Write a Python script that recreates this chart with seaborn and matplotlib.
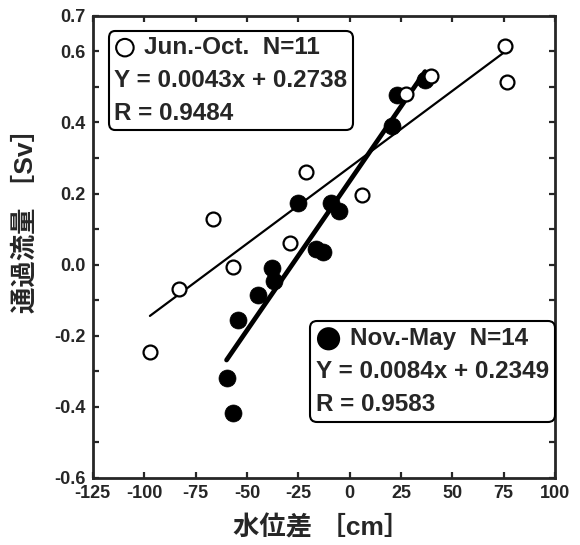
import numpy as np
import pandas as pd
import seaborn as sns
import matplotlib
matplotlib.use("Agg")
import matplotlib.pyplot as plt
from matplotlib.patches import Circle
from matplotlib.offsetbox import AnchoredOffsetbox, VPacker, HPacker, TextArea, DrawingArea

# Jun.-Oct. (open circles)
summer_x = [-97.2, -83.0, -66.7, -57.0, -28.8, -21.4, 5.9, 27.5, 39.5, 75.7, 76.5]
summer_y = [-0.245, -0.069, 0.129, -0.007, 0.060, 0.262, 0.196, 0.481, 0.531, 0.614, 0.515]

# Nov.-May (filled circles)
winter_x = [36.7, 22.9, 20.5, -25.0, -9.1, -5.0, -16.6, -12.8, -38.0, -36.8, -44.5, -54.2, -59.9, -57.0]
winter_y = [0.520, 0.478, 0.390, 0.174, 0.173, 0.151, 0.044, 0.035, -0.009, -0.046, -0.084, -0.157, -0.318, -0.416]

# regression results printed in the boxes
fit_slope = [0.0043, 0.0084]
fit_intercept = [0.2738, 0.2349]
box_lines = [
    ["Jun.-Oct.  N=11", "Y = 0.0043x + 0.2738", "R = 0.9484"],
    ["Nov.-May  N=14", "Y = 0.0084x + 0.2349", "R = 0.9583"],
]

x_ticks = [-125, -100, -75, -50, -25, 0, 25, 50, 75, 100]
y_ticks = [-0.6, -0.5, -0.4, -0.3, -0.2, -0.1, 0.0, 0.1, 0.2, 0.3, 0.4, 0.5, 0.6, 0.7]
y_ticklabels = ["-0.6", "", "-0.4", "", "-0.2", "", "0.0", "", "0.2", "", "0.4", "", "0.6", "0.7"]

sns.set_style("ticks")
plt.rcParams["font.family"] = ["Liberation Sans", "Noto Sans CJK JP", "DejaVu Sans"]
plt.rcParams["font.weight"] = "bold"

df_s = pd.DataFrame({"x": summer_x, "y": summer_y})
df_w = pd.DataFrame({"x": winter_x, "y": winter_y})

fig, ax = plt.subplots(figsize=(5.8, 5.45), dpi=100)
fig.subplots_adjust(left=0.160, right=0.957, bottom=0.123, top=0.971)

# fitted lines over each data range
line_s = np.array([df_s["x"].min(), df_s["x"].max()])
line_w = np.array([df_w["x"].min(), df_w["x"].max()])
sns.lineplot(x=line_s, y=fit_slope[0] * line_s + fit_intercept[0], color="black", lw=1.6, ax=ax, zorder=2)
sns.lineplot(x=line_w, y=fit_slope[1] * line_w + fit_intercept[1], color="black", lw=3.4, ax=ax, zorder=2)

# points
sns.scatterplot(data=df_w, x="x", y="y", s=150, color="black", edgecolor="black", linewidth=0.5, ax=ax, zorder=3)
sns.scatterplot(data=df_s, x="x", y="y", s=100, facecolor="white", edgecolor="black", linewidth=1.6, ax=ax, zorder=4)

ax.set_xlim(-125, 100)
ax.set_ylim(-0.6, 0.7)
ax.set_xticks(x_ticks)
ax.set_xticklabels([str(v) for v in x_ticks])
ax.set_yticks(y_ticks)
ax.set_yticklabels(y_ticklabels)
ax.tick_params(direction="in", length=4, width=1.6, top=True, right=True, labelsize=13, pad=5)
for lab in ax.get_xticklabels() + ax.get_yticklabels():
    lab.set_fontweight("bold")
for sp in ax.spines.values():
    sp.set_linewidth(2.0)
    sp.set_visible(True)

ax.set_xlabel("水位差 ［cm］", fontsize=19, fontweight="bold")
ax.set_ylabel("通過流量 ［Sv］", fontsize=19, fontweight="bold")
ax.xaxis.set_label_coords(0.494, -0.108)
ax.yaxis.set_label_coords(-0.145, 0.57)
ax.xaxis.label.set_va("center")
ax.yaxis.label.set_va("center")


def stat_box(face, radius, lines, anchor, loc):
    tp = dict(fontsize=17.5, fontweight="bold", family="Liberation Sans")
    da = DrawingArea(2 * radius + 3, 2 * radius + 2, 0, 0)
    da.add_artist(Circle((radius + 1.5, radius + 1), radius, facecolor=face, edgecolor="black", lw=1.5))
    row1 = HPacker(children=[da, TextArea(lines[0], textprops=tp)], align="center", pad=0, sep=6)
    rows = [row1] + [TextArea(t, textprops=tp) for t in lines[1:]]
    vp = VPacker(children=rows, align="left", pad=0, sep=7)
    box = AnchoredOffsetbox(loc=loc, child=vp, pad=0.3, borderpad=0, frameon=True,
                            bbox_to_anchor=anchor, bbox_transform=ax.transAxes)
    box.patch.set_boxstyle("round,pad=0.1,rounding_size=0.5")
    box.patch.set_linewidth(1.5)
    box.patch.set_edgecolor("black")
    box.set_zorder(5)
    ax.add_artist(box)


stat_box("white", 6.3, box_lines[0], (0.037, 0.965), "upper left")
stat_box("black", 7.6, box_lines[1], (0.996, 0.336), "upper right")

plt.savefig("out.png", dpi=100)
